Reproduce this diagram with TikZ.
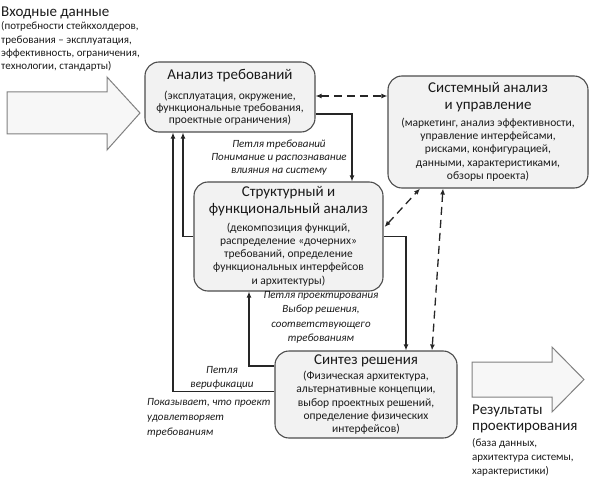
\documentclass[tikz,border=0pt]{standalone}
\usepackage{fontspec}
\setmainfont{Carlito}
\usetikzlibrary{arrows.meta,calc}
\definecolor{boxfill}{HTML}{F2F2F2}
\definecolor{boxdraw}{HTML}{4D4D4D}
\definecolor{txt}{HTML}{1A1A1A}
\definecolor{bigfill}{HTML}{F7F7F7}
\definecolor{bigdraw}{HTML}{808080}
\newcommand{\ttl}{\fontsize{15}{17}\selectfont}
\newcommand{\sbt}{\fontsize{11.5}{13.3}\selectfont}
\newcommand{\itl}{\fontsize{11}{13.3}\selectfont\itshape}
\begin{document}
\begin{tikzpicture}[x=1pt,y=-1pt,
  box/.style={draw=boxdraw,fill=boxfill,line width=1.1pt,rounded corners=14pt,
    align=center,inner sep=0pt,text=txt,font=\sbt},
  lbl/.style={inner sep=0pt,text=txt,font=\itl,align=center},
  plain/.style={inner sep=0pt,text=txt},
  arr/.style={draw=black!85,line width=1.2pt,-{Latex[length=6pt,width=5pt]}},
  darr/.style={draw=black!85,line width=1.3pt,dash pattern=on 8pt off 5pt,
    {Latex[length=6pt,width=5pt]}-{Latex[length=6pt,width=5pt]}},
  big/.style={draw=bigdraw,fill=bigfill,line width=1pt}]
\useasboundingbox (0,0) rectangle (591,481);

% big arrows
\draw[big] (7,92) -- (107,92) -- (107,77) -- (140,113) -- (107,150) -- (107,134) -- (7,134) -- cycle;
\draw[big] (472,362) -- (552,362) -- (552,347) -- (584,379.5) -- (552,412) -- (552,397) -- (472,397) -- cycle;

% boxes
\node[box,minimum width=170pt,minimum height=70pt,font=\fontsize{11.5}{12}\selectfont] (req) at (230,97)
  {{\ttl Анализ требований}\\[8pt]
   (эксплуатация, окружение,\\функциональные требования,\\проектные ограничения)};
\node[box,minimum width=200pt,minimum height=112pt] (sys) at (488,132)
  {{\ttl Системный анализ}\\[3pt]{\ttl и управление}\\[4pt]
   (маркетинг, анализ эффективности,\\управление интерфейсами,\\рисками, конфигурацией,\\данными, характеристиками,\\обзоры проекта)};
\node[box,minimum width=189pt,minimum height=109pt] (struct) at (288.5,236.5)
  {{\ttl Структурный и}\\[3.5pt]{\ttl функциональный анализ}\\[4pt]
   (декомпозиция функций,\\распределение «дочерних»\\требований, определение\\функциональных интерфейсов\\и архитектуры)};
\node[box,minimum width=182pt,minimum height=87pt] (synth) at (366,394.5)
  {{\ttl Синтез решения}\\[2pt]
   (Физическая архитектура,\\альтернативные концепции,\\выбор проектных решений,\\определение физических\\интерфейсов)};

% texts
\node[plain,anchor=west,font=\ttl] (inT) at (1,13) {Входные данные};
\node[plain,anchor=west,align=left,font=\fontsize{11}{13.2}\selectfont] (inS) at (1,46.5)
  {(потребности стейкхолдеров,\\требования – эксплуатация,\\эффективность, ограничения,\\технологии, стандарты)};
\node[plain,anchor=west,font=\ttl] (outT) at (472,411) {Результаты};
\node[plain,anchor=west,font=\ttl] (outT2) at (472,428) {проектирования};
\node[plain,anchor=west,align=left,font=\fontsize{11}{14}\selectfont] (outS) at (472,457)
  {(база данных,\\архитектура системы,\\характеристики)};
\node[lbl] (lreq) at (279,157.5) {Петля требований\\Понимание и распознавание\\влияния на систему};
\node[lbl,font=\fontsize{11}{14.3}\selectfont\itshape] (ldes) at (321,317.5) {Петля проектирования\\Выбор решения,\\соответствующего\\требованиям};
\node[lbl,font=\fontsize{11}{13.5}\selectfont\itshape] (lver) at (222,378) {Петля\\верификации};
\node[lbl,align=left,anchor=west,font=\fontsize{11}{15}\selectfont\itshape] (lver2) at (147,417.5) {Показывает, что проект\\удовлетворяет\\требованиям};

% connector bends
\coordinate (vA) at (173,391.5);
\coordinate (dA) at (249,366);
\coordinate (sA) at (183,236.5);
\coordinate (rA) at (352,114);
\coordinate (tA) at (406,236.5);
\coordinate (qA) at (0,96);
\coordinate (g1) at (0,227);
\coordinate (g2) at (420,0);
\coordinate (h1) at (443,0);
\coordinate (h2) at (432,0);

\draw[arr] (synth.west |- vA) -- (vA) -- (vA |- req.south);
\draw[arr] (synth.west |- dA) -- (dA) -- (dA |- struct.south);
\draw[arr] (struct.west |- sA) -- (sA) -- (sA |- req.south);
\draw[arr] (req.east |- rA) -- (rA) -- (rA |- struct.north);
\draw[arr] (struct.east |- tA) -- (tA) -- (tA |- synth.north);
\draw[darr] (req.east |- qA) -- (sys.west |- qA);
\draw[darr] ([xshift=1pt]struct.east |- g1) -- (sys.south -| g2);
\draw[darr] (sys.south -| h1) -- (synth.north -| h2);
\end{tikzpicture}
\end{document}
